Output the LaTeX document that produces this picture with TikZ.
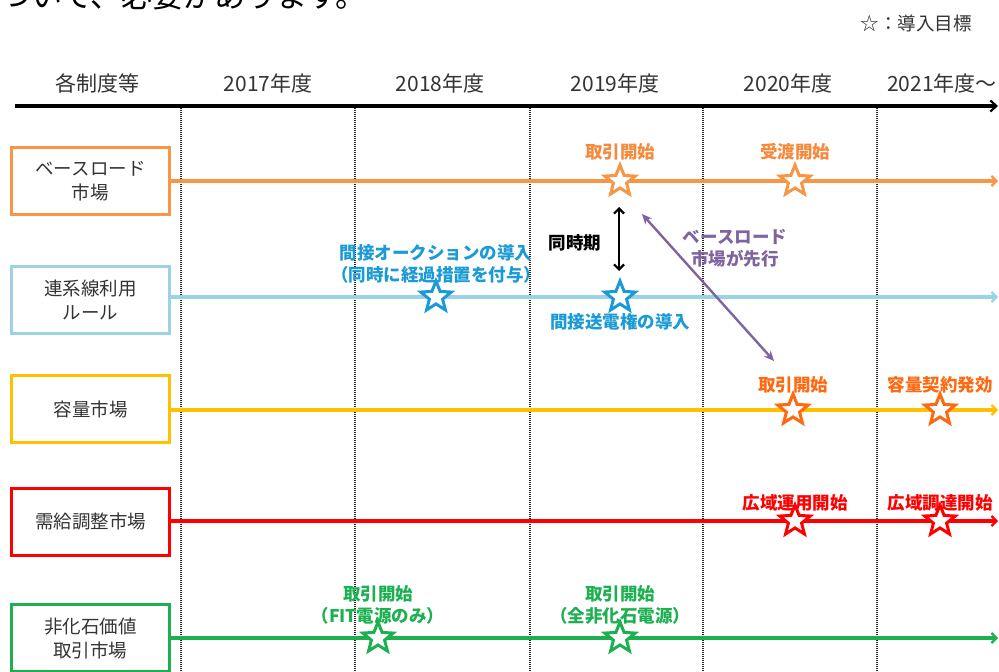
\documentclass[tikz,border=0pt]{standalone}
\usepackage{fontspec}
\setmainfont{Noto Sans CJK JP}
\usetikzlibrary{shapes.geometric,arrows.meta}
\definecolor{cOr}{HTML}{F79646}
\definecolor{cOrT}{HTML}{F58A3C}
\definecolor{cLb}{HTML}{9AD3E6}
\definecolor{cBl}{HTML}{1A9AD6}
\definecolor{cYe}{HTML}{FFC000}
\definecolor{cCap}{HTML}{FF6A10}
\definecolor{cRe}{HTML}{FF0000}
\definecolor{cGr}{HTML}{1DB050}
\definecolor{cPu}{HTML}{8064A2}
\definecolor{cTx}{HTML}{333333}
\tikzset{
  hdr/.style={font=\fontsize{21}{24}\selectfont, text=cTx, anchor=center},
  cat/.style={draw=#1, line width=3pt, minimum width=158pt, minimum height=67pt, inner sep=0pt,
    align=center, font=\fontsize{18.5}{24}\selectfont, text=cTx},
  track/.style={draw=#1, line width=3.2pt, -{Straight Barb[length=5pt,width=10pt,line width=2.2pt]}},
  goal/.style={star, star points=5, star point ratio=2.3, minimum size=32pt, inner sep=0pt,
    draw=#1, fill=white, line width=3pt},
  lbl/.style={text=#1, font=\bfseries\fontsize{17.5}{22}\selectfont, align=center, inner sep=0pt},
  yearsep/.style={draw=black!85, line width=1.4pt, dash pattern=on 1.2pt off 0.8pt},
}
\begin{document}
\begin{tikzpicture}[x=1pt,y=-1pt]
\useasboundingbox[fill=white] (0,0) rectangle (999,672);
% cropped heading line at the top
\node[anchor=base west, inner sep=0pt, font=\fontsize{31}{31}\selectfont, text=black] (top) at (0,7) {ついて、必要があります。};
% legend
\node[anchor=east, inner sep=0pt, font=\fontsize{18.5}{22}\selectfont, text=cTx] (legend) at (972,23) {☆：導入目標};
% header
\node[hdr] (h0) at (97,83) {各制度等};
\node[hdr] (h1) at (268,83) {2017年度};
\node[hdr] (h2) at (440,83) {2018年度};
\node[hdr] (h3) at (615,83) {2019年度};
\node[hdr] (h4) at (788,83) {2020年度};
\node[hdr] (h5) at (942,83) {2021年度～};
\coordinate (axL) at (15,106);
\coordinate (axR) at (998,106);
\draw[line width=3.2pt, -{Straight Barb[length=6pt,width=11pt,line width=2.2pt]}] (axL) -- (axR);
% year separators
\foreach \x/\n in {181/v1,355/v2,530/v3,703/v4,877/v5}{
  \coordinate (\n t) at (\x,108);
  \coordinate (\n b) at (\x,672);
  \draw[yearsep] (\n t) -- (\n b);
}
% category boxes
\node[cat=cOr] (b1) at (90.5,181) {ベースロード\\市場};
\node[cat=cLb] (b2) at (90.5,300) {連系線利用\\ルール};
\node[cat=cYe] (b3) at (90.5,409) {容量市場};
\node[cat=cRe] (b4) at (90.5,521.5) {需給調整市場};
\node[cat=cGr] (b5) at (90.5,638) {非化石価値\\取引市場};
% track ends
\coordinate (e1) at (998,181);
\coordinate (e2) at (998,297);
\coordinate (e3) at (998,410);
\coordinate (e4) at (998,521);
\coordinate (e5) at (998,638);
\draw[track=cOr] (b1.east) -- (e1);
\draw[track=cLb] (b2.east |- e2) -- (e2);
\draw[track=cYe] (b3.east |- e3) -- (e3);
\draw[track=cRe] (b4.east |- e4) -- (e4);
\draw[track=cGr] (b5.east) -- (e5);
% stars
\node[goal=cOr] (s11) at (620,181) {};
\node[goal=cOr] (s12) at (795,181) {};
\node[goal=cBl] (s21) at (436,297) {};
\node[goal=cBl] (s22) at (620,297) {};
\node[goal=cCap] (s31) at (793,410) {};
\node[goal=cCap] (s32) at (940,410) {};
\node[goal=cRe] (s41) at (795,521) {};
\node[goal=cRe] (s42) at (940,521) {};
\node[goal=cGr] (s51) at (378,638) {};
\node[goal=cGr] (s52) at (620,638) {};
% labels
\node[lbl=cOrT] (l11) at (620,152) {取引開始};
\node[lbl=cOrT] (l12) at (795,152) {受渡開始};
\node[lbl=cBl] (l21) at (436,264) {間接オークションの導入\\（同時に経過措置を付与）};
\node[lbl=cBl] (l22) at (620,322) {間接送電権の導入};
\node[lbl=cCap] (l31) at (793,385) {取引開始};
\node[lbl=cCap] (l32) at (940,385) {容量契約発効};
\node[lbl=cRe] (l41) at (795,503) {広域運用開始};
\node[lbl=cRe] (l42) at (940,503) {広域調達開始};
\node[lbl=cGr] (l51) at (378,605) {取引開始\\（FIT電源のみ）};
\node[lbl=cGr] (l52) at (620,605) {取引開始\\（全非化石電源）};
% simultaneous arrow
\node[lbl=black] (same) at (575,243) {同時期};
\coordinate (sa) at (619,207);
\coordinate (sb) at (619,271);
\draw[line width=2.6pt, {Straight Barb[length=5pt,width=10pt,line width=2.2pt]}-{Straight Barb[length=5pt,width=10pt,line width=2.2pt]}] (sa) -- (sb);
% base load leads
\node[lbl=cPu] (lead) at (735,248) {ベースロード\\市場が先行};
\coordinate (pa) at (642,214);
\coordinate (pb) at (774,361);
\draw[draw=cPu, line width=2.4pt, {Stealth[length=10pt,width=9pt]}-{Stealth[length=10pt,width=9pt]}] (pa) -- (pb);
\end{tikzpicture}
\end{document}
